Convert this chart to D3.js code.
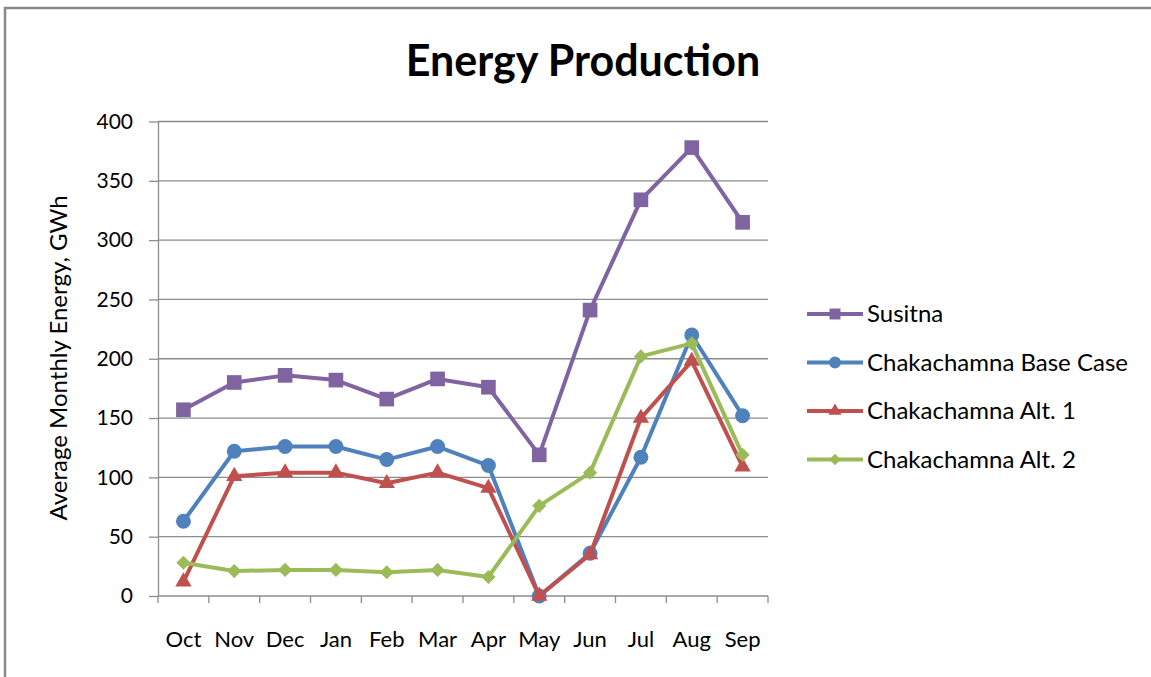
<!DOCTYPE html>
<meta charset="utf-8">
<style>
    body { margin: 0; background: #fff; }
    text { font-family: Lato, "Open Sans", sans-serif; fill: #000; }
    .grid line { stroke: #8c8c8c; stroke-width: 1.3px; }
    .axis path, .axis line { stroke: #8c8c8c; stroke-width: 1.3px; }
</style>
<svg width="1151" height="677"></svg>
<script src="https://d3js.org/d3.v7.min.js"></script>
<script>
    var months = ["Oct", "Nov", "Dec", "Jan", "Feb", "Mar", "Apr", "May", "Jun", "Jul", "Aug", "Sep"];
    var yTicks = [0, 50, 100, 150, 200, 250, 300, 350, 400];

    var susitna   = [157, 180, 186, 182, 166, 183, 176, 119, 241, 334, 378, 315];
    var baseCase  = [63, 122, 126, 126, 115, 126, 110, 0, 36, 117, 220, 152];
    var alt1      = [12, 101, 104, 104, 95, 104, 91, 0, 35, 150, 198, 109];
    var alt2      = [28, 21, 22, 22, 20, 22, 16, 76, 104, 202, 213, 119];

    // diamond drawn as a square turned 45 degrees
    var rotatedSquare = {
        draw: function(context, size) {
            var r = Math.sqrt(size / 2);
            context.moveTo(0, -r);
            context.lineTo(r, 0);
            context.lineTo(0, r);
            context.lineTo(-r, 0);
            context.closePath();
        }
    };

    var series = [
        {name: "Susitna", values: susitna, color: "#8064A2", symbol: d3.symbolSquare, size: 215, legSize: 120},
        {name: "Chakachamna Base Case", values: baseCase, color: "#4F81BD", symbol: d3.symbolCircle, size: 175, legSize: 110},
        {name: "Chakachamna Alt. 1", values: alt1, color: "#C0504D", symbol: d3.symbolTriangle, size: 115, legSize: 75},
        {name: "Chakachamna Alt. 2", values: alt2, color: "#9BBB59", symbol: rotatedSquare, size: 100, legSize: 65}
    ];

    var svg = d3.select("svg");

    // outer frame
    svg.append("rect")
        .attr("x", 5).attr("y", 8)
        .attr("width", 1170).attr("height", 700)
        .attr("fill", "none")
        .attr("stroke", "#8a8a8a")
        .attr("stroke-width", 2.5);

    var plotLeft = 158, plotRight = 768, plotTop = 121.5, plotBottom = 596;

    var x = d3.scaleBand().domain(months).range([plotLeft, plotRight]);
    var y = d3.scaleLinear().domain([0, 400]).range([plotBottom, plotTop]);

    // horizontal gridlines
    svg.append("g").attr("class", "grid")
        .selectAll("line")
        .data(yTicks.slice(1))
        .enter().append("line")
        .attr("x1", plotLeft).attr("x2", plotRight)
        .attr("y1", function(d) { return y(d); })
        .attr("y2", function(d) { return y(d); });

    // y axis
    var yAxis = svg.append("g").attr("class", "axis")
        .attr("transform", "translate(" + plotLeft + ",0)")
        .call(d3.axisLeft(y).tickValues(yTicks).tickSize(9).tickPadding(16).tickSizeOuter(0));
    yAxis.selectAll("text").style("font-size", "21px").attr("fill", "#000");

    // x axis with ticks between categories
    var xAxis = svg.append("g").attr("class", "axis")
        .attr("transform", "translate(0," + plotBottom + ")");
    xAxis.append("line")
        .attr("x1", plotLeft).attr("x2", plotRight);
    var bounds = d3.range(months.length + 1).map(function(i) { return plotLeft + i * x.step(); });
    xAxis.selectAll(".tk")
        .data(bounds)
        .enter().append("line")
        .attr("class", "tk")
        .attr("x1", function(d) { return d; }).attr("x2", function(d) { return d; })
        .attr("y1", 0).attr("y2", 7);
    xAxis.selectAll(".lbl")
        .data(months)
        .enter().append("text")
        .attr("class", "lbl")
        .attr("x", function(d) { return x(d) + x.bandwidth() / 2; })
        .attr("y", 51)
        .attr("text-anchor", "middle")
        .style("font-size", "22px")
        .text(function(d) { return d; });

    // y axis title
    svg.append("text")
        .attr("transform", "translate(67,358) rotate(-90)")
        .attr("text-anchor", "middle")
        .style("font-size", "24px")
        .text("Average Monthly Energy, GWh");

    // title
    svg.append("text")
        .attr("x", 583).attr("y", 76)
        .attr("text-anchor", "middle")
        .style("font-size", "43px")
        .style("font-weight", "bold")
        .text("Energy Production");

    var line = d3.line()
        .x(function(d, i) { return x(months[i]) + x.bandwidth() / 2; })
        .y(function(d) { return y(d); });

    var sg = svg.selectAll(".series")
        .data(series)
        .enter().append("g")
        .attr("class", "series");

    sg.append("path")
        .attr("d", function(d) { return line(d.values); })
        .attr("fill", "none")
        .attr("stroke", function(d) { return d.color; })
        .attr("stroke-width", 4)
        .attr("stroke-linejoin", "round");

    sg.each(function(s) {
        d3.select(this).selectAll(".pt")
            .data(s.values)
            .enter().append("path")
            .attr("class", "pt")
            .attr("transform", function(d, i) {
                return "translate(" + (x(months[i]) + x.bandwidth() / 2) + "," + y(d) + ")";
            })
            .attr("d", d3.symbol().type(s.symbol).size(s.size))
            .attr("fill", s.color);
    });

    // legend
    var legend = svg.append("g").attr("transform", "translate(807,314)");
    var item = legend.selectAll("g")
        .data(series)
        .enter().append("g")
        .attr("transform", function(d, i) { return "translate(0," + i * 48.5 + ")"; });
    item.append("line")
        .attr("x1", 0).attr("x2", 56)
        .attr("stroke", function(d) { return d.color; })
        .attr("stroke-width", 4);
    item.append("path")
        .attr("transform", "translate(28,0)")
        .attr("d", function(d) { return d3.symbol().type(d.symbol).size(d.legSize)(); })
        .attr("fill", function(d) { return d.color; });
    item.append("text")
        .attr("x", 60).attr("y", 8)
        .style("font-size", "24px")
        .text(function(d) { return d.name; });
</script>
